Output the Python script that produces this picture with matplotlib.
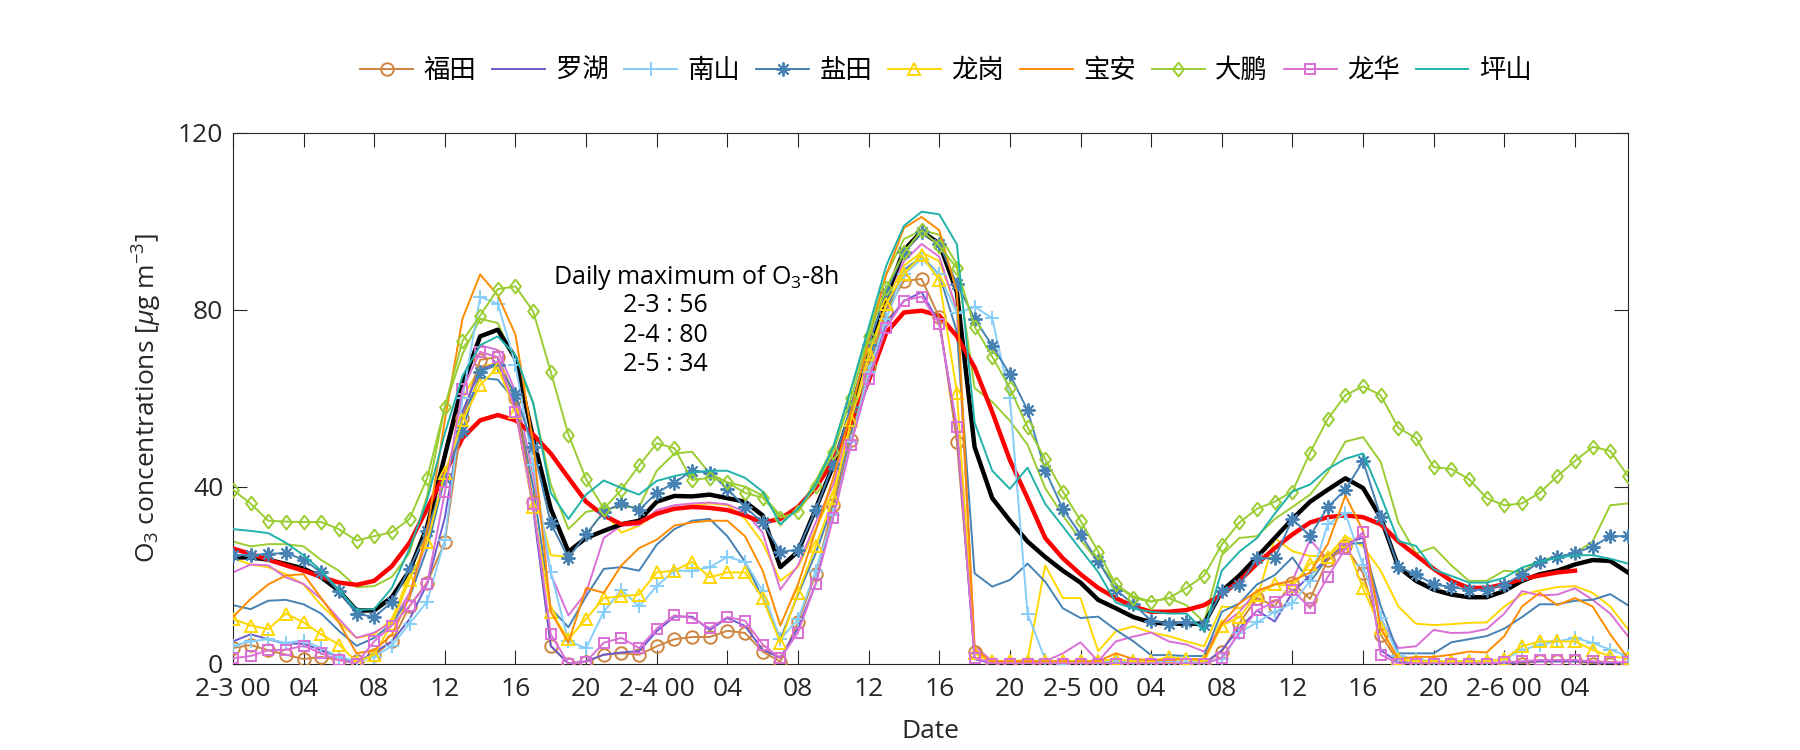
import numpy as np
import matplotlib
matplotlib.use("Agg")
import matplotlib.pyplot as plt

plt.rcParams['font.family'] = ['Open Sans', 'Noto Sans CJK SC', 'DejaVu Sans']
plt.rcParams['mathtext.fontset'] = 'custom'
plt.rcParams['mathtext.rm'] = 'Open Sans'
plt.rcParams['mathtext.it'] = 'Open Sans:italic'

hours = np.arange(80)
xtick_pos = list(range(0, 80, 4))
xtick_labels = ['2-3 00', '04', '08', '12', '16', '20',
                '2-4 00', '04', '08', '12', '16', '20',
                '2-5 00', '04', '08', '12', '16', '20',
                '2-6 00', '04']

# ---- thick lines ----
mean_black = [24, 24, 23.5, 22.5, 21.5, 19.5, 16.5, 12, 12, 15, 21, 31,
              47, 63, 74, 75.5, 69, 51, 35, 25.3, 28.4, 30, 31.5, 32.3,
              36.6, 37.9, 37.8, 38.2, 37.4, 36.6, 33.5, 21.8, 25.3, 35, 44.8, 57,
              71, 83, 93.5, 97.7, 95, 84, 49, 37.4, 32.3, 27.6, 24.1, 21,
              18.3, 14.4, 12.5, 10.5, 9.3, 9, 9, 9, 16.4, 19.9, 24.1, 28.4,
              32.7, 36.6, 39.3, 41.9, 39.7, 33, 21.8, 18.7, 16.7, 15.6, 15, 15,
              16.4, 18.7, 20.2, 21, 22.4, 23.4, 23.2, 20.6]
mean_red = [26, 24.8, 23.5, 22.2, 21, 19.6, 18.3, 17.8, 18.7, 22, 27.3, 35,
            43, 51, 55, 56.2, 55, 51.8, 47.5, 42, 36.6, 33.5, 31.5, 31.9,
            33.9, 35, 35.4, 35.2, 34.7, 33.5, 31.9, 32.7, 35.4, 39.7, 46, 54.5,
            63.9, 74.8, 79.4, 79.8, 78.7, 74, 67, 56.9, 46, 37.4, 28.4, 23.8,
            20.2, 17.1, 14.8, 12.9, 11.7, 11.7, 12.1, 13.2, 15.6, 18.7, 22.6, 26.1,
            29.2, 31.9, 33.1, 33.5, 33.1, 31.5, 27.6, 24.5, 21.4, 18.7, 17.1, 17.1,
            17.9, 19.1, 19.9, 20.6, 21, np.nan, np.nan, np.nan]

# ---- legend stations ----
futian = [3.5, 4.2, 3, 2, 1, 1.5, 0.8, 0.5, 2, 5, 13, 18.3,
          27.5, 55.6, 68.7, 69.3, 60, 36.6, 3.9, 0, 0.4, 2, 2.3, 2,
          3.9, 5.5, 6, 6, 7.4, 6.9, 2.7, 0.4, 9.3, 20.2, 35.8, 50.6,
          67, 79.8, 86.5, 87, 78.3, 50, 2.7, 0, 0, 0, 0, 0,
          0, 0, 0, 0, 0, 0, 0, 0, 2.7, 9.2, 14.8, 13,
          18.3, 14.6, 23.4, 26.5, 20.4, 6.5, 0.4, 0, 0, 0, 0, 0,
          0, 0, 0.5, 0.5, 0.5, 0, 0, 0]
luohu = [5, 6.6, 5.5, 4.5, 4.5, 3, 1.5, 0.3, 2.5, 5, 10, 18,
         33, 57, 66.5, 68, 58, 35, 4, 0, 0.5, 2, 2.5, 2.8,
         7.3, 10.6, 10.6, 7.6, 10.3, 8.5, 3.1, 1.3, 8, 18, 34, 50,
         64, 77, 82, 84, 77, 53, 1, 0, 0, 0, 0, 0,
         0, 0, 0, 0, 0, 0, 0, 0, 3, 8, 12, 9.5,
         16, 20, 24, 27, 28.5, 3, 0.3, 0, 0, 0, 0, 0,
         0, 0.3, 0.5, 0.5, 0.5, 0.3, 0, 0]
nanshan = [4, 5, 5.5, 4.7, 5.2, 3.5, 1.5, 0.5, 1.5, 4, 9, 14,
           28, 60, 82.9, 81.4, 67.6, 45, 20.7, 5, 3.5, 11.7, 16.7, 12.9,
           17.5, 21, 21, 21.8, 24.1, 23, 16.4, 5.5, 10, 21, 33.5, 50,
           66, 78, 88, 91.5, 88, 79.2, 80.7, 78.1, 60, 11.3, 0.9, 0,
           0.5, 0.5, 0.5, 0.5, 0.5, 0.3, 0.3, 0.3, 1, 7, 9.3, 11.7,
           13.6, 18.7, 31.5, 34, 22.2, 10.4, 1.8, 1, 0.5, 0.5, 0.5, 0.5,
           1, 3, 4.3, 5, 5.8, 4.7, 3.1, 1.7]
yantian = [24.5, 24.5, 24.8, 25, 23.5, 20.6, 16.4, 11.3, 10.5, 13.9, 21.4, 30,
           42, 52.6, 66, 67.6, 61, 49, 31.7, 23.9, 29.2, 34.3, 36.2, 34.7,
           38.6, 40.9, 43.6, 43.2, 39.5, 35.4, 31.9, 25.3, 25.7, 34.7, 45.2, 58,
           72, 84, 93, 97.5, 94.9, 85.9, 78, 71.9, 65.4, 57.3, 43.7, 35,
           29.2, 23.1, 16.7, 13.4, 9.7, 9, 9.3, 8.7, 16.4, 17.7, 23.8, 23.8,
           32.7, 28.8, 35.4, 39.3, 45.8, 33.2, 21.8, 20.2, 17.9, 17.3, 16.7, 16.7,
           17.8, 20.2, 23, 24.1, 25, 26.4, 28.8, 28.8]
longgang = [10.1, 8.6, 7.8, 11.3, 9.3, 6.6, 4.3, 0.4, 2, 9, 19, 27.5,
            43, 55, 63, 67, 57, 35.4, 11.7, 5.5, 10.1, 14.8, 15.2, 15.6,
            20.6, 21, 23, 19.5, 20.6, 20.6, 14.8, 4.7, 16, 26.5, 37.4, 55,
            70, 81.4, 88.2, 92.3, 86.7, 61.3, 2.3, 0.5, 0.5, 0.5, 0.5, 0.5,
            0.5, 0.5, 1, 0.5, 0.5, 1.5, 1, 0.5, 8.6, 10.5, 15.6, 17.9,
            17.5, 22.6, 24.1, 27.6, 17, 8, 1, 0.5, 0.5, 0.5, 0.5, 0.5,
            1, 3.9, 5, 5, 5, 3.1, 1.6, 1.2]
baoan = [10.5, 14.6, 17.9, 19.9, 20.2, 14.8, 9.3, 2.3, 3, 6.5, 15, 30,
         55, 78, 88, 83.3, 74.4, 50, 11.7, 4.7, 17.1, 16, 22.2, 26.1,
         28, 31.2, 31.9, 32.3, 32.3, 28.8, 21, 8.6, 17.9, 30, 42, 57,
         73, 88, 98.5, 101, 98, 84, 3, 0.5, 0.5, 0.5, 0.5, 0.5,
         0.5, 0.5, 2.3, 1, 0.8, 0.8, 1, 1, 9, 13.6, 16.4, 17.9,
         18.7, 20.6, 27, 38, 30, 8, 1, 1.5, 1.5, 2, 2.7, 2.5,
         6.2, 12.9, 16, 13.2, 14.8, 12.9, 6.6, 1.2]
dapeng = [39.3, 36.2, 32.3, 32.1, 32, 32, 30.4, 27.8, 28.8, 29.7, 32.7, 41.9,
          58, 73, 78.7, 84.7, 85.3, 79.7, 66, 51.8, 41.7, 35, 39.3, 44.8,
          49.8, 48.7, 41.5, 42, 41, 38.6, 37.5, 33, 34.3, 40.1, 47.9, 60,
          74, 85, 93, 98, 94.5, 89.4, 76.2, 69.4, 62.3, 53.5, 46.2, 38.9,
          32.3, 25.3, 17.9, 14.8, 14, 14.8, 17.1, 19.9, 26.9, 31.9, 35, 36.6,
          38.9, 47.7, 55.3, 60.7, 62.7, 60.7, 53.3, 51, 44.4, 44, 41.7, 37.4,
          35.8, 36.2, 38.6, 42.4, 45.8, 49, 48.1, 42.4]
longhua = [1.2, 1.7, 3, 3.1, 4, 2.3, 0.8, 0, 5, 8.6, 13, 18,
           38.7, 62, 70.5, 69.3, 57, 36, 6.6, 0, 0.4, 4.7, 5.8, 3.5,
           7.9, 10.9, 10.3, 8, 10.5, 9.7, 4.3, 1.2, 7, 18, 33, 49.5,
           64.3, 76, 82.1, 83, 76.9, 53.4, 1.3, 0, 0, 0, 0, 0,
           0, 0, 0, 0, 0, 0, 0, 0, 1.3, 7, 12, 14,
           16.7, 12.5, 19.6, 26, 29.7, 2, 0, 0, 0, 0, 0, 0,
           0.3, 0.5, 0.8, 0.8, 0.8, 0.5, 0.3, 0.3]
pingshan = [30.4, 30, 29.5, 27.3, 24.5, 21, 16.7, 12.1, 12.3, 17.1, 26, 37,
            52, 65, 72, 74, 69.7, 59, 38.6, 32.7, 38.2, 41.4, 39.7, 38.2,
            41.3, 42.4, 43.2, 43.6, 43.6, 42, 38.9, 31.5, 35, 40.5, 49, 62,
            76, 90, 99, 102.2, 101.6, 94.8, 54.5, 43.6, 39.5, 44.3, 36.1, 31,
            25.8, 20.7, 13.8, 12.4, 11.7, 11.3, 11.3, 7.4, 21, 25.3, 28.4, 33.9,
            38.9, 40.5, 44, 46.3, 47.5, 38, 27.7, 26.6, 21.3, 19.8, 18.3, 18.3,
            19.4, 21.7, 23, 23.9, 24.5, 24.5, 23.7, 22.6]

# ---- extra thin lines (no legend entry) ----
thin_yellowgreen = [27.6, 26.5, 27, 27, 26.5, 23.4, 21, 17.3, 17.5, 19.6, 25, 38,
                    58, 70, 78, 77, 68, 59, 40.5, 30.4, 34.3, 35, 35.4, 35.4,
                    43.6, 47.5, 47.9, 43, 41, 40, 38, 33.5, 34.7, 41.3, 49, 62,
                    75, 88, 96, 98, 97, 90.3, 62.3, 59.2, 54.9, 49.5, 39.7, 33.5,
                    28, 23, 17.9, 15.2, 14, 14.8, 13.2, 9.3, 24.5, 28.4, 28.8, 32.7,
                    35.4, 38.2, 43.2, 50.2, 51.2, 45.6, 31.9, 24.9, 26.3, 22.2, 18.7, 18.7,
                    21, 20.6, 23.4, 24.1, 24.9, 27.6, 35.8, 36.2]
thin_gold = [23.8, 22.4, 21.8, 20.2, 17.9, 13.2, 9.3, 5.8, 6.6, 10, 20, 32,
             47, 60, 67, 68, 60, 40, 24.5, 24.1, 29.2, 34.3, 29.6, 31.2,
             33.9, 35, 35.8, 36.2, 35.8, 32.7, 27.3, 18.7, 21.8, 30.4, 39, 53,
             68, 82, 90, 93, 91, 80, 3, 0.5, 0.5, 0.8, 22.2, 14.8,
             14.8, 2.8, 7.3, 8.4, 7, 6.2, 5, 3.9, 12.9, 12.5, 14.8, 28.4,
             25.4, 24.3, 24.3, 28.8, 26.5, 21, 12.9, 9, 8.7, 8.9, 9.2, 9.3,
             12.9, 15.6, 16.5, 17.3, 17.5, 16, 12.9, 7.8]
thin_orchid = [20.6, 22.4, 22.2, 19.5, 18, 14.6, 10.1, 5.8, 7, 9.3, 16, 28,
               48, 64.6, 72, 70.9, 61.5, 42.8, 20.2, 10.9, 16, 28.4, 31.2, 31.3,
               34.7, 35.8, 36.2, 36.4, 36, 34.3, 29.6, 16.7, 22.2, 31.9, 40.5, 55,
               70, 83, 91, 94.9, 92, 80, 4, 0.5, 0.5, 0.5, 0.5, 2.3,
               4.8, 0.5, 5, 6.1, 7, 5, 4.3, 2.7, 8.6, 11.7, 16.4, 17.9,
               18.7, 28, 23.4, 26, 29.6, 10, 3.5, 3.9, 7.6, 6.9, 7, 7.8,
               11.3, 16.4, 15.4, 15.6, 17, 14.4, 11.3, 6.2]
thin_steelblue = [13.2, 12.3, 14.2, 14.4, 13.4, 11.3, 7.4, 4, 5.8, 9, 15, 26,
                  42, 56, 64.6, 64.2, 59.3, 40, 12.5, 8.2, 15.2, 21.4, 21.8, 21,
                  26.9, 30.4, 32.3, 32.7, 28.8, 23, 14.8, 5.5, 15.6, 24.9, 36.2, 52,
                  67, 80, 89, 92, 88, 75, 20.4, 17.4, 18.9, 22.6, 18.5, 12.5,
                  10.3, 10.6, 7.6, 5, 1.9, 1.9, 1.7, 1.7, 11.7, 13.6, 17.9, 20,
                  24, 18.4, 24, 27, 27.3, 13, 2.3, 2.3, 2.3, 4.8, 5.5, 6.2,
                  7.9, 10.5, 13.4, 13.4, 14.2, 14.4, 15.7, 13.2]

station_names = ['福田', '罗湖', '南山', '盐田', '龙岗', '宝安', '大鹏', '龙华', '坪山']
station_data = [futian, luohu, nanshan, yantian, longgang, baoan, dapeng, longhua, pingshan]
station_colors = ['#CD853F', '#6A5ACD', '#87CEFA', '#4682B4', '#FFD700',
                  '#FF8C00', '#9ACD32', '#DA70D6', '#20B2AA']
diamond = [(0, 1), (0.78, 0), (0, -1), (-0.78, 0), (0, 1)]
station_markers = ['o', None, '+', (8, 2, 0), '^', None, diamond, 's', None]
station_ms = [9, 0, 10, 10, 9, 0, 10, 7, 0]

thin_data = [thin_yellowgreen, thin_gold, thin_orchid, thin_steelblue]
thin_colors = ['#9ACD32', '#FFD700', '#DA70D6', '#4682B4']

FS = 19

fig = plt.figure(figsize=(18, 7.5), dpi=100)
ax = fig.add_axes([0.1294, 0.1153, 0.7750, 0.7074])

for d, c in zip(thin_data, thin_colors):
    ax.plot(hours, d, color=c, lw=1.4, zorder=2)

ax.plot(hours, mean_black, color='black', lw=3.2, zorder=3)
ax.plot(hours, mean_red, color='red', lw=3.2, zorder=3)

handles = []
for name, d, c, m, ms in zip(station_names, station_data, station_colors,
                             station_markers, station_ms):
    if m is None:
        ln, = ax.plot(hours, d, color=c, lw=1.4, zorder=4, label=name)
    else:
        ln, = ax.plot(hours, d, color=c, lw=1.4, marker=m, ms=ms,
                      mfc='none', mec=c, mew=1.4, zorder=4, label=name)
    handles.append(ln)

ax.set_xlim(0, 79)
ax.set_ylim(0, 120)
ax.set_xticks(xtick_pos)
ax.set_xticklabels(xtick_labels)
ax.set_yticks([0, 40, 80, 120])
ax.tick_params(direction='in', length=10, width=0.8, top=True, right=True,
               labelsize=FS, colors='#262626')
ax.tick_params(axis='x', pad=10)
ax.tick_params(axis='y', pad=7)
for s in ax.spines.values():
    s.set_linewidth(0.8)
    s.set_color('#262626')

ax.set_xlabel('Date', fontsize=FS, color='#262626', labelpad=12)
ax.set_ylabel(r'O$_3$ concentrations [$\mu$g m$^{-3}$]', fontsize=FS,
              color='#262626', labelpad=10)

ax.text(18.1, 87.2, r'Daily maximum of O$_3$-8h', fontsize=18, ha='left',
        va='center', color='black')
ax.text(24.5, 80.9, '2-3 : 56', fontsize=18, ha='center', va='center')
ax.text(24.5, 74.3, '2-4 : 80', fontsize=18, ha='center', va='center')
ax.text(24.5, 67.7, '2-5 : 34', fontsize=18, ha='center', va='center')

fig.legend(handles=handles, loc='center', bbox_to_anchor=(0.5256, 0.905),
           ncol=9, frameon=False, fontsize=FS, handlelength=2.0,
           handletextpad=0.4, columnspacing=0.6)

fig.savefig('out.png', dpi=100)
